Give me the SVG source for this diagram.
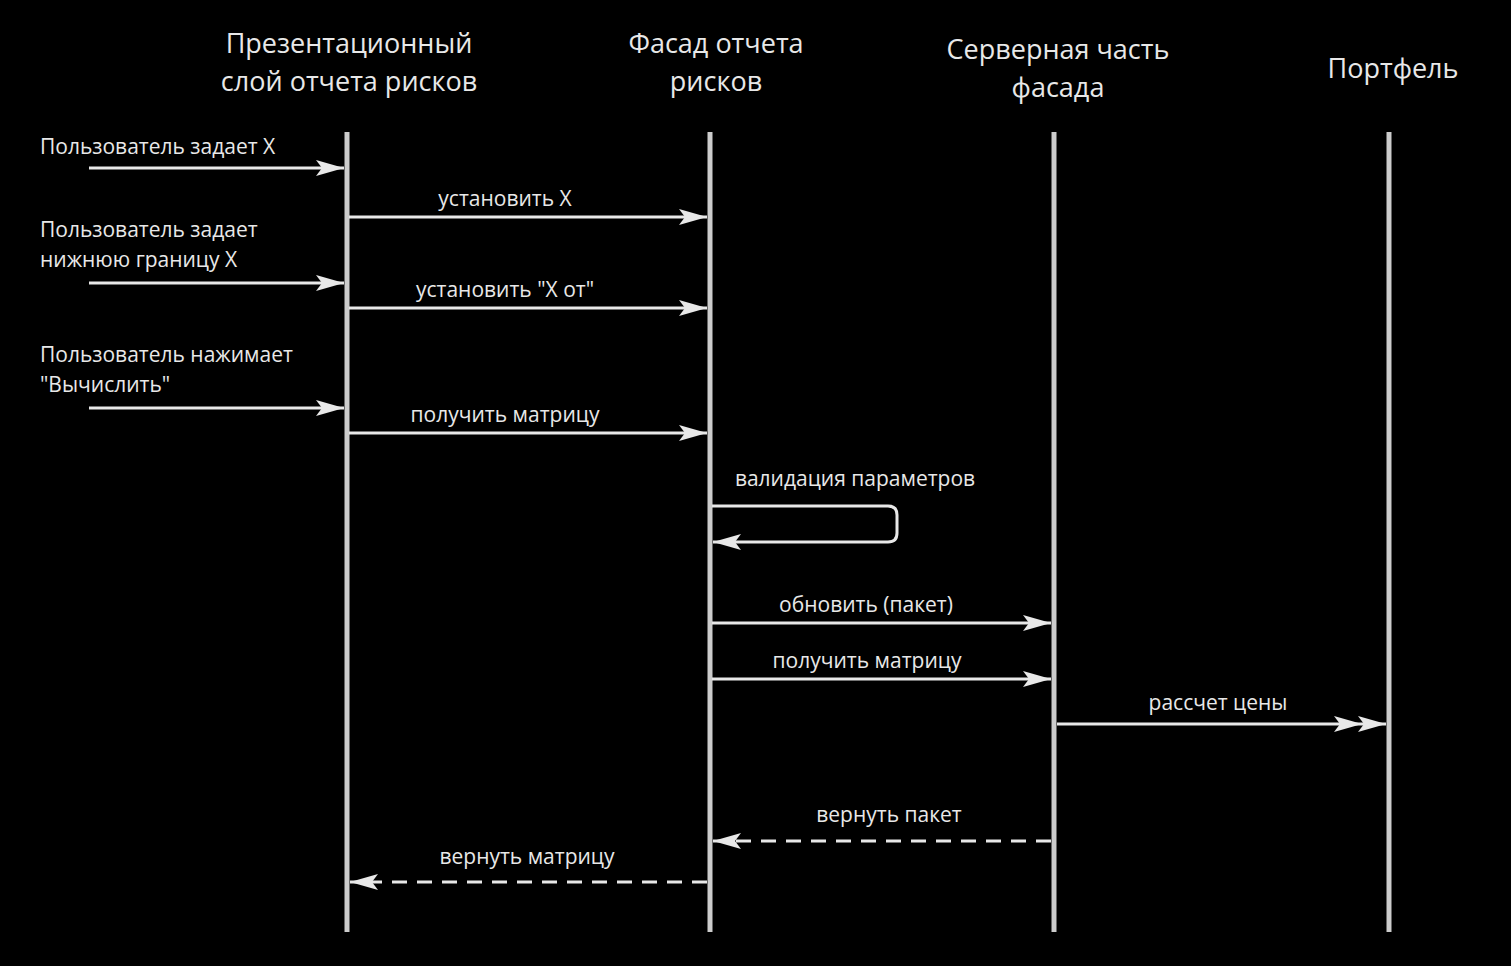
<svg xmlns="http://www.w3.org/2000/svg" width="1511" height="966" viewBox="0 0 1511 966">
<style>
text{font-family:"Open Sans","Noto Sans","DejaVu Sans",sans-serif;fill:#e8e8e8}
.h{font-size:27px;text-anchor:middle}
.l{font-size:21px}
.c{text-anchor:middle}
.life{stroke:#cccccc;stroke-width:5}
.msg{stroke:#e8e8e8;stroke-width:3;fill:none}
.dash{stroke-dasharray:15,10}
</style>
<defs>
<marker id="ah" markerUnits="userSpaceOnUse" markerWidth="30" markerHeight="20" refX="28" refY="9" orient="auto">
<path d="M0,1 L28,9 L0,17 L6,9 z" fill="#e8e8e8"/>
</marker>
<marker id="ah2" markerUnits="userSpaceOnUse" markerWidth="54" markerHeight="20" refX="52" refY="9" orient="auto">
<path d="M0,1 L28,9 L0,17 L6,9 z M24,1 L52,9 L24,17 L30,9 z" fill="#e8e8e8"/>
</marker>
</defs>
<rect width="1511" height="966" fill="#000"/>
<g id="presentation">
<text class="h" x="349" y="53">Презентационный</text>
<text class="h" x="349" y="91">слой отчета рисков</text>
<line class="life" x1="347" y1="132" x2="347" y2="932"/>
</g>
<g id="facade">
<text class="h" x="716" y="53">Фасад отчета</text>
<text class="h" x="716" y="91">рисков</text>
<line class="life" x1="710" y1="132" x2="710" y2="932"/>
</g>
<g id="server">
<text class="h" x="1058" y="59">Серверная часть</text>
<text class="h" x="1058" y="97">фасада</text>
<line class="life" x1="1054" y1="132" x2="1054" y2="932"/>
</g>
<g id="portfolio">
<text class="h" x="1393" y="78">Портфель</text>
<line class="life" x1="1389" y1="132" x2="1389" y2="932"/>
</g>
<g id="connectors">
<text class="l" x="40" y="154">Пользователь задает X</text>
<line class="msg" x1="89" y1="168" x2="344" y2="168" marker-end="url(#ah)"/>
<text class="l c" x="505" y="206">установить X</text>
<line class="msg" x1="349" y1="217" x2="707" y2="217" marker-end="url(#ah)"/>
<text class="l" x="40" y="237">Пользователь задает</text>
<text class="l" x="40" y="267">нижнюю границу X</text>
<line class="msg" x1="89" y1="283" x2="344" y2="283" marker-end="url(#ah)"/>
<text class="l c" x="505" y="297">установить "X от"</text>
<line class="msg" x1="349" y1="308" x2="707" y2="308" marker-end="url(#ah)"/>
<text class="l" x="40" y="362">Пользователь нажимает</text>
<text class="l" x="40" y="392">"Вычислить"</text>
<line class="msg" x1="89" y1="408" x2="344" y2="408" marker-end="url(#ah)"/>
<text class="l c" x="505" y="422">получить матрицу</text>
<line class="msg" x1="349" y1="433" x2="707" y2="433" marker-end="url(#ah)"/>
<text class="l c" x="855" y="486">валидация параметров</text>
<path class="msg" d="M712,506 H888 Q897,506 897,515 V533 Q897,542 888,542 H713" marker-end="url(#ah)"/>
<text class="l c" x="866" y="612">обновить (пакет)</text>
<line class="msg" x1="712" y1="623" x2="1051" y2="623" marker-end="url(#ah)"/>
<text class="l c" x="867" y="668">получить матрицу</text>
<line class="msg" x1="712" y1="679" x2="1051" y2="679" marker-end="url(#ah)"/>
<text class="l c" x="1218" y="710">рассчет цены</text>
<line class="msg" x1="1057" y1="724" x2="1386" y2="724" marker-end="url(#ah2)"/>
<text class="l c" x="889" y="822">вернуть пакет</text>
<line class="msg dash" x1="1051" y1="841" x2="713" y2="841" marker-end="url(#ah)"/>
<text class="l c" x="527" y="864">вернуть матрицу</text>
<line class="msg dash" x1="707" y1="882" x2="350" y2="882" marker-end="url(#ah)"/>
</g>
</svg>
